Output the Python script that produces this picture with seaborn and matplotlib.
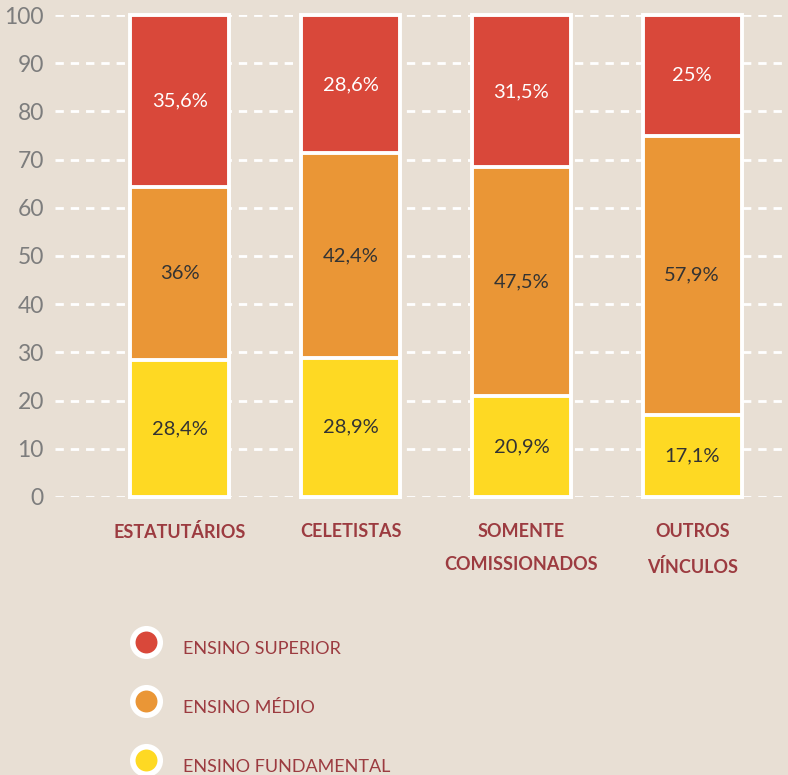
import matplotlib
matplotlib.use('Agg')
import matplotlib.pyplot as plt
from matplotlib.lines import Line2D
import numpy as np
import pandas as pd
import seaborn as sns

BG = '#E8DFD4'
RED = '#D9483A'
ORANGE = '#EA9636'
YELLOW = '#FED923'
WINE = '#9C3B40'

categories = ['ESTATUTÁRIOS', 'CELETISTAS', 'SOMENTE\nCOMISSIONADOS', 'OUTROS\nVÍNCULOS']
fundamental = [28.4, 28.9, 20.9, 17.1]
medio = [36.0, 42.4, 47.5, 57.9]
superior = [35.6, 28.6, 31.5, 25.0]
series_names = ['ENSINO SUPERIOR', 'ENSINO MÉDIO', 'ENSINO FUNDAMENTAL']
y_ticks = [0, 10, 20, 30, 40, 50, 60, 70, 80, 90, 100]

sns.set_theme(style='white')
plt.rcParams['font.family'] = ['Lato', 'DejaVu Sans']

df = pd.DataFrame({'cat': categories, 'fund': fundamental, 'med': medio, 'sup': superior})
df['top_med'] = df['fund'] + df['med']
df['top_sup'] = df['top_med'] + df['sup']

fig = plt.figure(figsize=(7.88, 7.75), dpi=100, facecolor=BG)
ax = fig.add_axes([55 / 788, 1 - 497 / 775, 1 - 55 / 788, (497 - 15) / 775])
ax.set_facecolor(BG)

# stacked bars: draw cumulative heights from tallest to shortest
for col, color in [('top_sup', RED), ('top_med', ORANGE), ('fund', YELLOW)]:
  sns.barplot(data=df, x='cat', y=col, color=color, width=0.58, ax=ax,
              edgecolor='white', linewidth=2.8, saturation=1, clip_on=False, zorder=3)

# value labels
for i in range(len(categories)):
  segs = [(0, fundamental[i], '#333333'),
          (fundamental[i], medio[i], '#333333'),
          (fundamental[i] + medio[i], superior[i], 'white')]
  for base, h, tc in segs:
    txt = f'{h:g}'.replace('.', ',') + '%'
    ax.text(i, base + h / 2, txt, ha='center', va='center', color=tc, fontsize=14.5, zorder=5)

ax.set_xlim(-0.731, 3.561)
ax.set_ylim(0, 100)
ax.set_yticks(y_ticks)
ax.set_yticklabels([str(t) for t in y_ticks], color='#7d7d7d', fontsize=16.5)
ax.set_xlabel('')
ax.set_ylabel('')
ax.tick_params(axis='y', length=0, pad=8)
ax.tick_params(axis='x', length=0, pad=19)
for lab in ax.get_xticklabels():
  lab.set_fontweight('bold')
  lab.set_color(WINE)
  lab.set_fontsize(13)
  lab.set_linespacing(2.15)
  lab.set_verticalalignment('top')

ax.set_axisbelow(True)
ax.yaxis.grid(True, color='white', linestyle=(0, (3, 2.5)), linewidth=2)
for s in ax.spines.values():
  s.set_visible(False)

# legend
legend_colors = [RED, ORANGE, YELLOW]
legend_y = [642, 701, 760]
for name, color, yp in zip(series_names, legend_colors, legend_y):
  fig.add_artist(Line2D([146 / 788], [1 - yp / 775], transform=fig.transFigure, marker='o',
                        markersize=19.8, markerfacecolor=color, markeredgecolor='white',
                        markeredgewidth=4, linestyle='none'))
  fig.text(183 / 788, 1 - (yp + 7) / 775, name, color=WINE, fontsize=13, va='center', ha='left')

fig.savefig('out.png', dpi=100, facecolor=BG)
